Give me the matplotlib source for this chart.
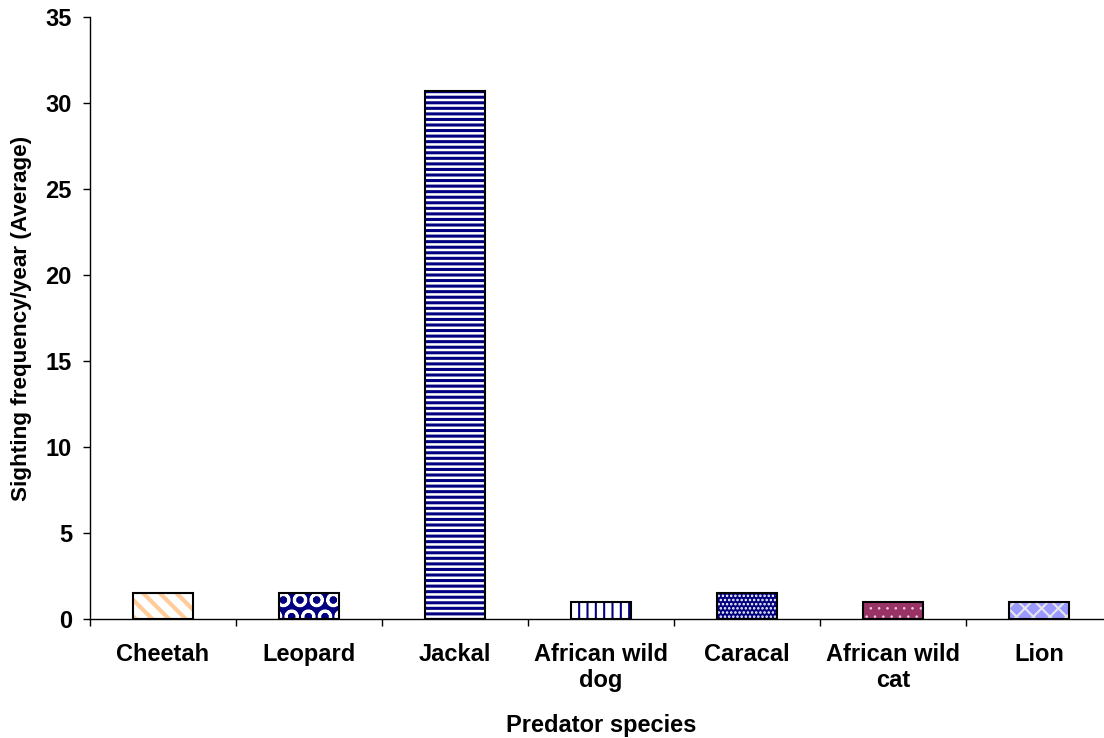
import matplotlib
matplotlib.use("Agg")
import matplotlib.pyplot as plt
import numpy as np

species = ["Cheetah", "Leopard", "Jackal", "African wild\ndog", "Caracal",
           "African wild\ncat", "Lion"]
sightings = [1.5, 1.5, 30.7, 1.0, 1.5, 1.0, 1.0]

# fill, hatch colour, hatch pattern, hatch line width
faces = ["white", "#000080", "white", "white", "#000080", "#993366", "#9999FF"]
hatch_colors = ["#FFCC99", "white", "#000080", "#000080", "white", "#F0D0E0", "#E6E6E6"]
hatches = ["\\\\", "O", "---", "||", "....", "..", "xx"]
hatch_widths = [3.0, 2.0, 2.2, 1.5, 1.2, 0.6, 1.5]

plt.rcParams["font.family"] = ["Liberation Sans", "DejaVu Sans"]
plt.rcParams["font.weight"] = "bold"

fig = plt.figure(figsize=(11.04, 7.38), dpi=100)
ax = fig.add_axes([90 / 1104, 119 / 738, 1022 / 1104, 602 / 738])

x = np.arange(len(species))
w = 0.41
for i in range(len(species)):
    with plt.rc_context({"hatch.linewidth": hatch_widths[i],
                         "hatch.color": hatch_colors[i]}):
        ax.bar(x[i], sightings[i], width=w, color=faces[i],
               hatch=hatches[i], edgecolor=hatch_colors[i], linewidth=0)
ax.bar(x, sightings, width=w, fill=False, edgecolor="black", linewidth=1.5)

ax.set_xlim(-0.5, len(species) - 0.5)
ax.set_ylim(0, 35)
ax.set_yticks(range(0, 36, 5))
ax.tick_params(axis="y", direction="out", length=5, width=1, pad=8, labelsize=17)

# ticks on category boundaries, labels under category centres
ax.set_xticks(np.arange(len(species) + 1) - 0.5)
ax.set_xticklabels([])
ax.set_xticks(x, minor=True)
ax.set_xticklabels(species, minor=True, fontsize=17, fontweight="bold")
ax.tick_params(axis="x", which="major", direction="out", length=5, width=1)
ax.tick_params(axis="x", which="minor", length=0, pad=17)

for s in ["top", "right"]:
    ax.spines[s].set_visible(False)
for s in ["left", "bottom"]:
    ax.spines[s].set_linewidth(1)

ax.set_xlabel("Predator species", fontsize=17, fontweight="bold", labelpad=16)
ax.set_ylabel("Sighting frequency/year (Average)", fontsize=16.2, fontweight="bold")
ax.yaxis.set_label_coords(-58 / 1022, 0.5)

fig.savefig("out.png", dpi=100)
